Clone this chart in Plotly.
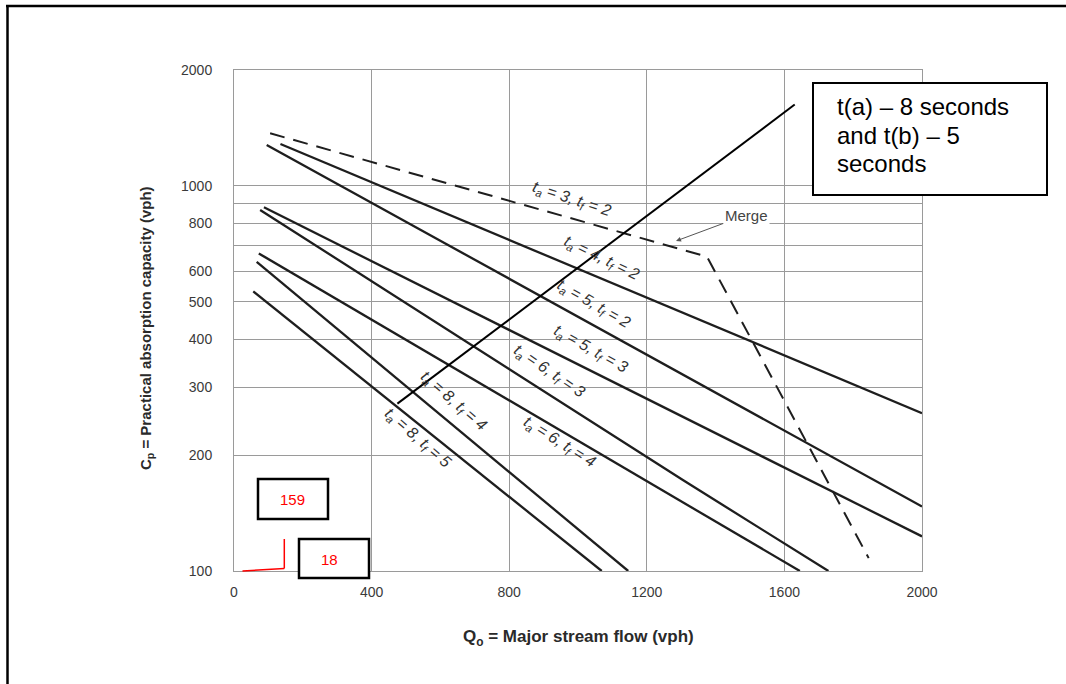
import plotly.graph_objects as go

# ---------------- data ----------------
# Major stream flow Q (vph) vs practical absorption capacity Cp (vph)
q_merge = [105, 1375, 1845]
cp_merge = [1370, 655, 108]

q_ta4_tf2 = [135, 2000]
cp_ta4_tf2 = [1285, 257]

q_ta5_tf2 = [95, 2000]
cp_ta5_tf2 = [1278, 147]

q_ta5_tf3 = [87, 2000]
cp_ta5_tf3 = [880, 123]

q_ta6_tf3 = [76, 1306, 1728]
cp_ta6_tf3 = [866, 172, 100]

q_ta6_tf4 = [72, 1645]
cp_ta6_tf4 = [668, 100]

q_ta8_tf4 = [66, 1146]
cp_ta8_tf4 = [635, 100]

q_ta8_tf5 = [56, 1069]
cp_ta8_tf5 = [532, 100]

# reading line drawn by the user (annotation)
q_reading = [475, 1630]
cp_reading = [272, 1627]

x_ticks = [0, 400, 800, 1200, 1600, 2000]
y_ticks = [100, 200, 300, 400, 500, 600, 800, 1000, 2000]
y_ticktext = ["100", "200", "300", "400", "500", "600", "800", "1000", "2000"]
y_minor_grid = [700, 900]

curve_labels = [
    "t<sub>a</sub> = 3, t<sub>f</sub> = 2",
    "t<sub>a</sub> = 4, t<sub>f</sub> = 2",
    "t<sub>a</sub> = 5, t<sub>f</sub> = 2",
    "t<sub>a</sub> = 5, t<sub>f</sub> = 3",
    "t<sub>a</sub> = 6, t<sub>f</sub> = 3",
    "t<sub>a</sub> = 6, t<sub>f</sub> = 4",
    "t<sub>a</sub> = 8, t<sub>f</sub> = 4",
    "t<sub>a</sub> = 8, t<sub>f</sub> = 5",
]

callout_lines = ["t(a) \u2013 8 seconds", "and t(b) \u2013 5", "seconds"]

# ---------------- layout geometry ----------------
W, H = 1066, 684
L, R, T, B = 234, 922, 70, 571
FONT = "Liberation Sans, Arial, sans-serif"


def xp(px):
    return (px - L) / (R - L)


def yp(py):
    return (B - py) / (B - T)


LINE_COL = "#1e1e1e"
GRID_COL = "#9a9a9a"

fig = go.Figure()

solid = [
    (q_ta4_tf2, cp_ta4_tf2),
    (q_ta5_tf2, cp_ta5_tf2),
    (q_ta5_tf3, cp_ta5_tf3),
    (q_ta6_tf3, cp_ta6_tf3),
    (q_ta6_tf4, cp_ta6_tf4),
    (q_ta8_tf4, cp_ta8_tf4),
    (q_ta8_tf5, cp_ta8_tf5),
]
for qx, cy in solid:
    fig.add_trace(go.Scatter(x=qx, y=cy, mode="lines",
                             line=dict(color=LINE_COL, width=2.3),
                             showlegend=False, hoverinfo="skip"))

fig.add_trace(go.Scatter(x=q_merge, y=cp_merge, mode="lines",
                         line=dict(color=LINE_COL, width=2, dash="15px,9px"),
                         showlegend=False, hoverinfo="skip"))

fig.add_trace(go.Scatter(x=q_reading, y=cp_reading, mode="lines",
                         line=dict(color="#000000", width=2),
                         showlegend=False, hoverinfo="skip", cliponaxis=False))

annotations = []


def add_text(px, py, text, size, color, angle=0, xanchor="center", align="center"):
    annotations.append(dict(
        x=xp(px), y=yp(py), xref="paper", yref="paper", text=text,
        showarrow=False, textangle=angle, xanchor=xanchor, yanchor="middle",
        align=align, font=dict(family=FONT, size=size, color=color)))


# curve labels (pixel centre, angle)
label_pos = [
    (572, 199, 18),
    (602, 258, 26),
    (594, 304, 30),
    (591, 349, 29),
    (549, 372, 34),
    (560, 442, 32),
    (454, 401, 41),
    (418, 438, 41),
]
for txt, (px, py, ang) in zip(curve_labels, label_pos):
    add_text(px, py, "<i>" + txt + "</i>", 16, "#333333", angle=ang)

# Merge label with arrow
annotations.append(dict(
    x=xp(676), y=yp(241), xref="paper", yref="paper",
    ax=70, ay=-26,
    text="Merge", showarrow=True, arrowhead=2, arrowsize=1, arrowwidth=1,
    arrowcolor="#555555", bgcolor="white", standoff=0,
    xanchor="center", yanchor="middle",
    font=dict(family=FONT, size=15, color="#444444")))

# axis titles
add_text(578, 638, "<b>Q<sub>o</sub> = Major stream flow (vph)</b>", 17, "#2a2a2a")
add_text(146, 328, "<b>C<sub>p</sub> = Practical absorption capacity (vph)</b>", 15,
         "#2a2a2a", angle=-90)

# callout box text (one annotation per line for Word-like line spacing)
for i, line in enumerate(callout_lines):
    add_text(835, 107 + 28.3 * i, line, 24, "#000000", xanchor="left", align="left")

# red numbers
add_text(292.7, 499, "159", 15, "#ff0000")
add_text(329, 559, "18", 15, "#ff0000")

shapes = [
    # callout box
    dict(type="rect", xref="paper", yref="paper",
         x0=xp(813), x1=xp(1047), y0=yp(83), y1=yp(195),
         line=dict(color="#000000", width=2), fillcolor="white", layer="above"),
    # number boxes
    dict(type="rect", xref="paper", yref="paper",
         x0=xp(258), x1=xp(328), y0=yp(479), y1=yp(519),
         line=dict(color="#000000", width=2.5), fillcolor="white", layer="above"),
    dict(type="rect", xref="paper", yref="paper",
         x0=xp(299), x1=xp(369), y0=yp(539), y1=yp(578),
         line=dict(color="#000000", width=2.5), fillcolor="white", layer="above"),
    # red guide lines
    dict(type="line", xref="paper", yref="paper",
         x0=xp(284.3), x1=xp(284.3), y0=yp(539), y1=yp(568.5),
         line=dict(color="#ff0000", width=1.5), layer="above"),
    dict(type="line", xref="paper", yref="paper",
         x0=xp(242.5), x1=xp(284.3), y0=yp(571), y1=yp(568.5),
         line=dict(color="#ff0000", width=1.5), layer="above"),
    # outer frame of the picture
    dict(type="line", xref="paper", yref="paper",
         x0=xp(6), x1=xp(1066), y0=yp(6), y1=yp(6),
         line=dict(color="#000000", width=2.5), layer="above"),
    dict(type="line", xref="paper", yref="paper",
         x0=xp(7.5), x1=xp(7.5), y0=yp(5), y1=yp(684),
         line=dict(color="#000000", width=2.5), layer="above"),
]

fig.update_layout(
    width=W, height=H,
    margin=dict(l=L, r=W - R, t=T, b=H - B, pad=0),
    paper_bgcolor="white", plot_bgcolor="white",
    showlegend=False,
    annotations=annotations, shapes=shapes,
    xaxis=dict(range=[0, 2000], tickvals=x_ticks, showgrid=True,
               gridcolor=GRID_COL, gridwidth=1, zeroline=False,
               showline=True, linecolor=GRID_COL, linewidth=1, mirror=True,
               ticks="", ticklabelstandoff=8,
               tickfont=dict(family=FONT, size=14, color="#3a3a3a")),
    yaxis=dict(type="log", range=[2, 3.30103], tickvals=y_ticks, ticktext=y_ticktext,
               showgrid=True, gridcolor=GRID_COL, gridwidth=1, zeroline=False,
               showline=True, linecolor=GRID_COL, linewidth=1, mirror=True,
               ticks="", ticklabelstandoff=18,
               minor=dict(tickvals=y_minor_grid, showgrid=True, gridcolor=GRID_COL,
                          gridwidth=1, ticks=""),
               tickfont=dict(family=FONT, size=14, color="#3a3a3a")),
)

fig.write_html("out.html",
               config={"displayModeBar": False},
               post_script="document.body.style.margin='0';document.body.style.overflow='hidden';")
